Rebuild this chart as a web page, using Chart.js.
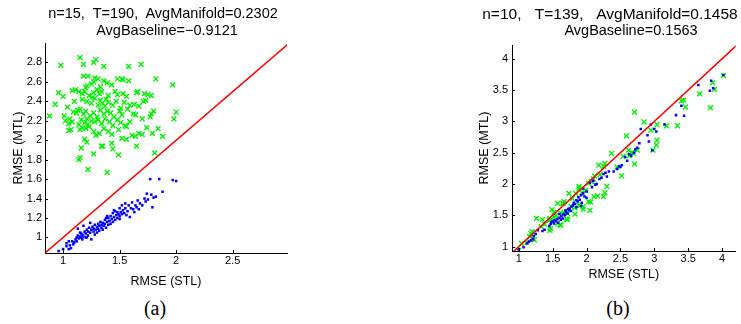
<!DOCTYPE html>
<html lang="en">
<head>
<meta charset="UTF-8">
<title>RMSE STL vs MTL</title>
<script src="https://cdn.jsdelivr.net/npm/chart.js@4.4.1/dist/chart.umd.min.js"></script>
<style>
    body { margin: 0; background: #fff; }
    #wrap { position: relative; width: 741px; height: 324px; overflow: hidden; font-family: 'Liberation Sans', Arial, sans-serif; color: #000; }
    canvas { position: absolute; top: 0; }
    .t { position: absolute; width: 320px; text-align: center; white-space: pre; font-size: 14.5px; line-height: 17px; }
    .cap { position: absolute; width: 60px; text-align: center; top: 296px; font-family: 'Liberation Serif', 'Times New Roman', serif; font-size: 20px; line-height: 24px; }
</style>
</head>
<body>
<div id="wrap">
    <canvas id="chartA" width="300" height="295" style="left:0px"></canvas>
    <canvas id="chartB" width="311" height="295" style="left:430px"></canvas>
    <div class="t" style="left:3px;top:5px">n=15,  T=190,  AvgManifold=0.2302</div>
    <div class="t" style="left:7px;top:22px">AvgBaseline=&minus;0.9121</div>
    <div class="t" style="left:450px;top:5px;font-size:15.5px;word-spacing:2.5px">n=10,  T=139,  AvgManifold=0.1458</div>
    <div class="t" style="left:471px;top:22px">AvgBaseline=0.1563</div>
    <div class="cap" style="left:125px">(a)</div>
    <div class="cap" style="left:588px">(b)</div>
</div>
<script>
// panel (a) : green x = baseline, blue dots = manifold
var xLimA = [0.84, 2.98];
var yLimA = [0.84, 3.0];
var xTicksA = [1, 1.5, 2, 2.5];
var yTicksA = [1, 1.2, 1.4, 1.6, 1.8, 2, 2.2, 2.4, 2.6, 2.8];

var baselineA = [
    [1.15,2.85],[1.29,2.83],[1.27,2.80],[0.98,2.77],[1.18,2.78],[1.36,2.76],[1.58,2.76],[1.69,2.78],
    [1.18,2.66],[1.22,2.66],[1.28,2.64],[1.31,2.63],[1.36,2.61],[1.39,2.59],[1.48,2.63],[1.52,2.63],
    [1.53,2.62],[1.58,2.61],[1.82,2.63],[1.97,2.57],[1.21,2.56],[1.20,2.54],[1.25,2.58],[1.33,2.55],
    [1.43,2.57],[1.27,2.60],
    [0.96,2.49],[1.00,2.45],[1.08,2.51],[1.11,2.52],[1.14,2.50],[1.17,2.48],[1.19,2.50],[1.23,2.46],
    [1.27,2.49],[1.30,2.52],[1.32,2.48],[1.34,2.50],[1.40,2.46],[1.46,2.50],[1.48,2.47],[1.53,2.48],
    [1.65,2.49],[1.66,2.50],[1.72,2.48],[1.75,2.47],[1.78,2.46],[1.56,2.45],
    [0.93,2.37],[1.04,2.34],[1.10,2.40],[1.17,2.42],[1.21,2.40],[1.25,2.38],[1.28,2.43],[1.31,2.36],
    [1.33,2.41],[1.35,2.38],[1.37,2.35],[1.40,2.39],[1.44,2.36],[1.47,2.40],[1.51,2.33],[1.54,2.39],
    [1.59,2.36],[1.63,2.37],[1.67,2.35],[1.71,2.40],[1.73,2.41],[1.26,2.44],[1.38,2.42],
    [0.88,2.25],[1.01,2.25],[1.06,2.22],[1.09,2.29],[1.13,2.31],[1.15,2.32],[1.18,2.27],[1.20,2.30],
    [1.24,2.25],[1.27,2.28],[1.30,2.24],[1.33,2.31],[1.36,2.27],[1.39,2.30],[1.42,2.28],[1.45,2.24],
    [1.50,2.30],[1.52,2.26],[1.57,2.32],[1.62,2.27],[1.64,2.26],[1.78,2.27],[1.80,2.30],[1.98,2.22],
    [2.00,2.29],[1.12,2.28],
    [1.02,2.20],[1.05,2.17],[1.08,2.19],[1.16,2.21],[1.19,2.18],[1.22,2.16],[1.25,2.20],[1.28,2.19],
    [1.31,2.21],[1.34,2.17],[1.37,2.22],[1.41,2.19],[1.44,2.15],[1.48,2.21],[1.51,2.18],[1.55,2.15],
    [1.59,2.19],[1.70,2.22],[1.77,2.24],[1.21,2.22],[1.14,2.16],[1.17,2.13],
    [1.05,2.10],[1.07,2.11],[1.15,2.11],[1.20,2.12],[1.23,2.14],[1.27,2.09],[1.29,2.05],[1.32,2.07],
    [1.36,2.12],[1.40,2.09],[1.43,2.06],[1.49,2.11],[1.52,2.02],[1.56,2.14],[1.61,2.05],[1.64,2.04],
    [1.67,2.07],[1.70,2.06],[1.74,2.13],[1.79,2.07],[1.84,2.12],[1.88,2.04],
    [1.19,2.01],[1.21,1.98],[1.35,1.94],[1.43,1.97],[1.49,1.85],[1.44,1.91],[1.65,1.94],[1.56,2.01],
    [1.16,1.92],[1.15,1.82],[1.14,1.80],[1.27,1.86],[1.81,1.87],[1.22,1.70],[1.39,1.67],[1.34,1.94]
];

var manifoldA = [
    [0.96,0.86],[1.00,0.88],[1.03,0.91],[1.03,0.94],[1.05,0.88],[1.06,0.92],[1.07,0.89],[1.08,0.96],
    [1.09,0.93],[1.10,0.95],[1.11,0.98],[1.12,1.00],[1.12,0.96],[1.13,1.02],[1.14,0.99],[1.15,1.01],
    [1.15,1.05],[1.16,1.00],[1.17,0.98],[1.17,1.03],[1.18,1.01],[1.19,1.06],[1.20,1.00],[1.20,1.04],
    [1.21,1.08],[1.22,1.02],[1.22,1.06],[1.23,1.10],[1.24,1.05],[1.24,1.15],[1.25,1.08],[1.25,0.98],
    [1.26,1.11],[1.27,1.06],[1.27,1.09],[1.28,1.03],[1.28,1.13],[1.29,1.08],[1.30,1.11],[1.30,1.05],
    [1.31,1.14],[1.31,1.09],[1.32,1.12],[1.32,1.07],[1.33,1.16],[1.34,1.10],[1.34,1.13],[1.35,1.08],
    [1.35,1.15],[1.36,1.12],[1.37,1.18],[1.37,1.14],[1.38,1.10],[1.38,1.20],[1.39,1.16],[1.40,1.13],
    [1.40,1.20],[1.41,1.17],[1.42,1.22],[1.42,1.14],[1.43,1.19],[1.44,1.25],[1.44,1.16],[1.45,1.21],
    [1.46,1.18],[1.46,1.27],[1.47,1.23],[1.48,1.20],[1.48,1.26],[1.49,1.24],[1.50,1.22],[1.50,1.30],
    [1.51,1.26],[1.52,1.24],[1.52,1.33],[1.53,1.28],[1.54,1.25],[1.55,1.35],[1.55,1.30],[1.56,1.23],
    [1.57,1.27],[1.58,1.33],[1.59,1.21],[1.60,1.30],[1.61,1.36],[1.62,1.29],[1.63,1.26],[1.64,1.33],
    [1.65,1.31],[1.66,1.38],[1.67,1.29],[1.68,1.35],[1.70,1.33],[1.72,1.40],[1.73,1.37],[1.74,1.45],
    [1.75,1.39],[1.77,1.60],[1.78,1.44],[1.79,1.31],[1.80,1.41],[1.82,1.42],[1.85,1.60],[1.88,1.47],
    [1.97,1.59],[2.00,1.58],[1.13,1.09],[1.18,1.12],[1.05,0.96],[1.16,1.04],[1.21,1.00],[1.45,1.28],
    [1.50,1.19],[1.39,1.22]
];

// panel (b)
var xLimB = [0.9, 4.2];
var yLimB = [0.93, 4.22];
var xTicksB = [1, 1.5, 2, 2.5, 3, 3.5, 4];
var yTicksB = [1, 1.5, 2, 2.5, 3, 3.5, 4];

var baselineB = [
    [4.02,3.73],[3.86,3.62],[3.89,3.51],[3.83,3.22],[3.67,3.44],[3.43,3.34],[3.46,3.23],[3.34,2.93],
    [3.04,2.95],[3.04,2.70],[3.03,2.62],[2.98,2.54],[2.95,2.86],[2.85,2.99],[2.71,3.15],[2.71,2.32],
    [2.59,2.77],[2.75,2.54],[2.69,2.49],[2.62,2.54],[2.54,2.44],[2.52,2.13],[2.45,2.27],[2.37,2.49],
    [2.27,2.33],[2.30,1.96],[2.27,1.86],[2.25,1.80],[2.16,1.81],[2.18,2.30],[2.12,2.13],[2.07,2.04],
    [2.03,1.72],[1.99,1.90],[1.93,1.86],[1.89,1.96],[1.95,1.64],[1.89,1.66],[1.79,1.77],[1.74,1.85],
    [1.67,1.72],[1.65,1.69],[1.62,1.54],[1.57,1.37],[1.61,1.35],[1.52,1.48],[1.49,1.59],[1.47,1.29],
    [1.38,1.36],[1.33,1.32],[1.26,1.45],[1.20,1.24],[1.16,1.16],[1.23,1.11],[1.04,1.05],[1.72,1.43],
    [1.77,1.64],[1.57,1.69],[1.83,1.52],[1.45,1.45],[1.35,1.43],[1.72,1.53],[1.84,1.85],[2.03,2.01],
    [2.11,1.80],[1.00,0.94],[1.21,1.13],[1.12,1.07],[1.46,1.26],[1.62,1.34],[1.52,1.55],[1.50,1.42],
    [1.65,1.69],[1.91,1.66],[2.06,1.71],[2.05,1.58],[1.89,1.93],[3.18,2.93],[3.40,3.33],[2.25,2.28],
    [2.63,2.45],[2.67,2.50],[2.10,2.08],[2.20,2.15],[1.55,1.50],[1.67,1.55],[1.83,1.62],[1.95,1.60],
    [1.70,1.44],[1.45,1.42],[1.18,1.21]
];

var manifoldB = [
    [1.00,0.96],[1.07,0.99],[1.12,1.05],[1.15,1.08],[1.18,1.10],[1.21,1.12],[1.22,1.17],[1.25,1.20],
    [1.28,1.26],[1.35,1.25],[1.38,1.27],[1.45,1.33],[1.47,1.36],[1.48,1.39],[1.50,1.40],[1.52,1.37],
    [1.53,1.42],[1.55,1.41],[1.57,1.44],[1.58,1.38],[1.60,1.46],[1.62,1.43],[1.63,1.49],[1.65,1.45],
    [1.66,1.52],[1.68,1.50],[1.70,1.55],[1.72,1.53],[1.74,1.58],[1.75,1.61],[1.77,1.57],[1.78,1.64],
    [1.80,1.66],[1.81,1.70],[1.83,1.68],[1.85,1.74],[1.87,1.72],[1.88,1.79],[1.90,1.75],[1.92,1.82],
    [1.93,1.70],[1.95,1.85],[1.97,1.80],[2.00,1.88],[2.05,2.02],[2.08,1.95],[2.10,2.05],[2.13,1.99],
    [2.15,2.00],[2.22,2.10],[2.25,2.16],[2.28,2.18],[2.30,2.12],[2.33,2.20],[2.40,2.20],[2.45,2.24],
    [2.48,2.28],[2.50,2.27],[2.52,2.30],[2.57,2.43],[2.60,2.37],[2.63,2.48],[2.66,2.45],[2.70,2.50],
    [2.72,2.55],[2.75,2.58],[2.78,2.65],[2.80,2.88],[2.90,2.78],[2.92,2.68],[2.95,2.95],[2.97,2.54],
    [3.00,2.88],[3.03,2.84],[3.15,2.95],[3.32,3.10],[3.40,3.25],[3.44,3.09],[3.65,3.58],[3.82,3.49],
    [3.84,3.65],[3.87,3.53],[4.02,3.74],[1.85,1.63],[1.92,1.65],[1.60,1.52],[1.69,1.58],[1.95,1.93],
    [2.00,1.78],[2.19,2.08],[1.73,1.60]
];

function toPts(arr) {
    return arr.map(function (p) { return { x: p[0], y: p[1] }; });
}

// MATLAB style ticks pointing into the axes
var inwardTicks = {
    id: 'inwardTicks',
    afterDraw: function (chart) {
        var ctx = chart.ctx, a = chart.chartArea, sx = chart.scales.x, sy = chart.scales.y;
        ctx.save();
        ctx.strokeStyle = '#000';
        ctx.lineWidth = 1;
        ctx.beginPath();
        sx.ticks.forEach(function (t) {
            var px = Math.round(sx.getPixelForValue(t.value)) + 0.5;
            ctx.moveTo(px, a.bottom); ctx.lineTo(px, a.bottom - 3);
        });
        sy.ticks.forEach(function (t) {
            var py = Math.round(sy.getPixelForValue(t.value)) + 0.5;
            ctx.moveTo(a.left, py); ctx.lineTo(a.left + 3, py);
        });
        ctx.stroke();
        ctx.restore();
    }
};

function makePanel(id, o) {
    var lo = Math.min(o.xLim[0], o.yLim[0]), hi = Math.max(o.xLim[1], o.yLim[1]);
    new Chart(document.getElementById(id), {
        type: 'scatter',
        data: {
            datasets: [{
                type: 'line',
                data: [{ x: lo, y: lo }, { x: hi, y: hi }],
                borderColor: '#ff0000',
                borderWidth: 1.5,
                pointRadius: 0,
                clip: 0
            }, {
                data: toPts(o.manifold),
                pointStyle: 'rect',
                pointRadius: 1.8,
                borderWidth: 0,
                backgroundColor: '#0000ff'
            }, {
                data: toPts(o.baseline),
                pointStyle: 'crossRot',
                pointRadius: 3.4,
                borderWidth: 1.4,
                borderColor: '#00ee00'
            }]
        },
        options: {
            responsive: false,
            animation: false,
            events: [],
            layout: { padding: o.pad },
            plugins: { legend: { display: false }, tooltip: { enabled: false } },
            scales: {
                x: {
                    type: 'linear', min: o.xLim[0], max: o.xLim[1],
                    afterBuildTicks: function (s) { s.ticks = o.xTicks.map(function (v) { return { value: v }; }); },
                    afterFit: function (s) { s.height = o.xH; },
                    grid: { display: false, drawTicks: false },
                    border: { display: true, color: '#000', width: 1 },
                    ticks: { padding: 1, color: '#000', maxRotation: 0, autoSkip: false,
                             font: { family: 'Liberation Sans', size: 11 },
                             callback: function (v) { return '' + v; } },
                    title: { display: true, text: 'RMSE (STL)', color: '#000',
                             font: { family: 'Liberation Sans', size: 12.5, lineHeight: 1.2 },
                             padding: { top: 0, bottom: o.xTitlePad } }
                },
                y: {
                    type: 'linear', min: o.yLim[0], max: o.yLim[1],
                    afterBuildTicks: function (s) { s.ticks = o.yTicks.map(function (v) { return { value: v }; }); },
                    afterFit: function (s) { s.width = o.yW; },
                    grid: { display: false, drawTicks: false },
                    border: { display: true, color: '#000', width: 1 },
                    ticks: { padding: o.yTickPad, color: '#000', autoSkip: false,
                             font: { family: 'Liberation Sans', size: 11 },
                             callback: function (v) { return '' + v; } },
                    title: { display: true, text: 'RMSE (MTL)', color: '#000',
                             font: { family: 'Liberation Sans', size: 12.5, lineHeight: 1.2 },
                             padding: { top: o.yTitlePad, bottom: 0 } }
                }
            }
        },
        plugins: [inwardTicks]
    });
}

makePanel('chartA', {
    xLim: xLimA, yLim: yLimA, xTicks: xTicksA, yTicks: yTicksA,
    manifold: manifoldA, baseline: baselineA,
    pad: { top: 43, right: 13, left: 0, bottom: 0 },
    xH: 42, yW: 45, xTitlePad: 6, yTitlePad: 11, yTickPad: 3
});

makePanel('chartB', {
    xLim: xLimB, yLim: yLimB, xTicks: xTicksB, yTicks: yTicksB,
    manifold: manifoldB, baseline: baselineB,
    pad: { top: 45, right: 1, left: 0, bottom: 0 },
    xH: 44, yW: 82, xTitlePad: 12.5, yTitlePad: 47.5, yTickPad: 4
});
</script>
</body>
</html>
